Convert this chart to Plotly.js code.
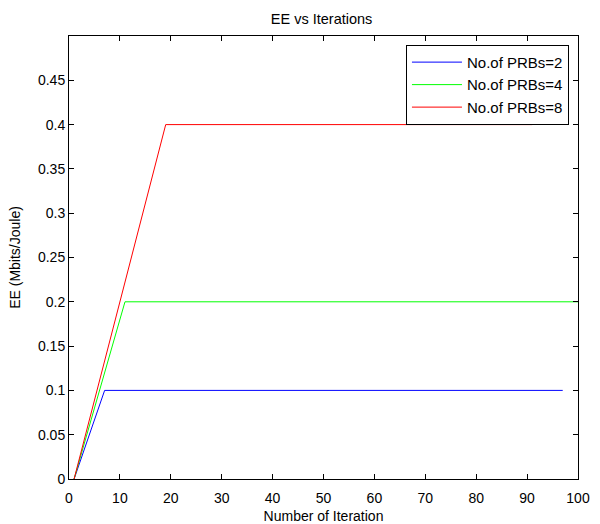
<!DOCTYPE html>
<html><head><meta charset="utf-8">
<script src="https://cdn.plot.ly/plotly-3.0.1.min.js"></script>
<style>body{margin:0;background:#fff}#c{width:600px;height:524px}</style>
</head><body><div id="c"></div>
<script>
const names = ["No.of PRBs=2", "No.of PRBs=4", "No.of PRBs=8"];
const colors = ["#0000ff", "#00ff00", "#ff0000"];
const xPRB2 = [1, 7, 97];
const yPRB2 = [0, 0.1, 0.1];
const xPRB4 = [1, 11, 100];
const yPRB4 = [0, 0.2, 0.2];
const xPRB8 = [1, 19, 91];
const yPRB8 = [0, 0.4, 0.4];
const xTicks = [0,10,20,30,40,50,60,70,80,90,100];
const yTicks = [0,0.05,0.1,0.15,0.2,0.25,0.3,0.35,0.4,0.45];

const xs = [xPRB2, xPRB4, xPRB8], ys = [yPRB2, yPRB4, yPRB8];
const data = names.map((n,i)=>({x:xs[i], y:ys[i], name:n, mode:'lines', type:'scatter',
  line:{color:colors[i], width:1}}));
const fam = 'Liberation Sans, Arial, sans-serif';
const font = {family:fam, size:14, color:'#000'};
const axisCommon = {showgrid:false, zeroline:false, showline:true, linecolor:'#000', linewidth:1,
  mirror:'ticks', ticks:'inside', ticklen:5, tickcolor:'#000', tickfont:font};
const layout = {
  width:600, height:524, paper_bgcolor:'#fff', plot_bgcolor:'#fff',
  margin:{l:69, r:22, t:36, b:45},
  font:font,
  title:{text:'EE vs Iterations', font:{family:fam, size:14.5, color:'#000'}, x:0.536, xanchor:'center', y:0.9637, yanchor:'middle'},
  xaxis:Object.assign({}, axisCommon, {range:[0,100], tickvals:xTicks, ticktext:xTicks.map(String), ticklabelstandoff:6,
    title:{text:'Number of Iteration', font:{family:fam,size:14,color:'#000'}, standoff:9}}),
  yaxis:Object.assign({}, axisCommon, {range:[0,0.5], tickvals:yTicks, ticktext:yTicks.map(String),
    title:{text:'EE (Mbits/Joule)', font:{family:fam,size:14,color:'#000'}, standoff:14}}),
  showlegend:true,
  legend:{x:0.662, y:0.98, xanchor:'left', yanchor:'top', bgcolor:'#fff', bordercolor:'#000', borderwidth:1,
    font:{family:fam, size:15, color:'#000'}, tracegroupgap:0, itemwidth:50}
};
Plotly.newPlot('c', data, layout, {displayModeBar:false, staticPlot:true});
</script></body></html>
